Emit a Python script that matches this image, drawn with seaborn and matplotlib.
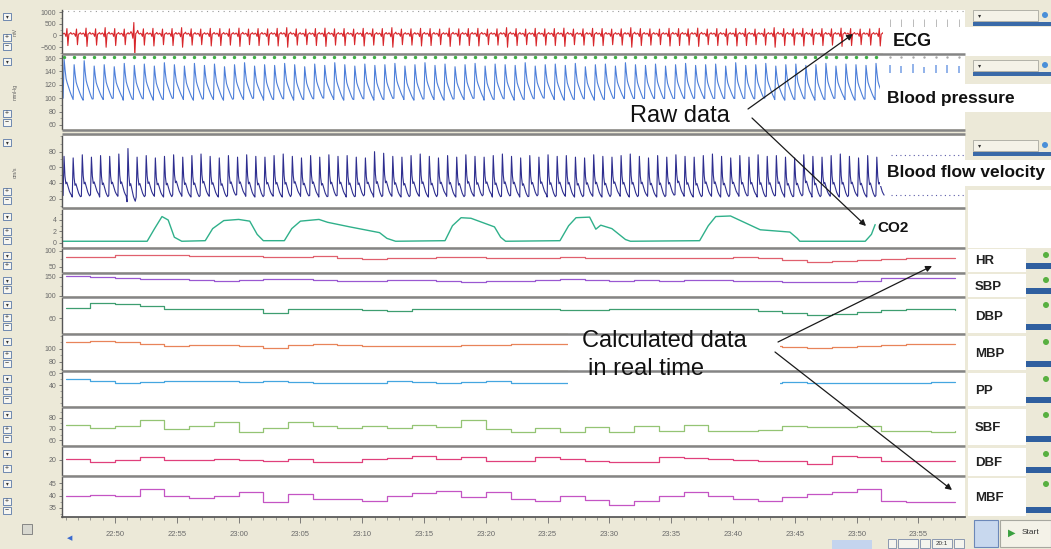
import numpy as np
import matplotlib
matplotlib.use("Agg")
import matplotlib.pyplot as plt
from matplotlib.patches import Rectangle, Circle
from matplotlib.ticker import AutoMinorLocator, FixedLocator
import seaborn as sns

# ---------------- data ----------------
# trend channels, one value every 2 min (minutes after 22:00)
trend_min = [46, 48, 50, 52, 54, 56, 58, 60, 62, 64, 66, 68, 70, 72, 74, 76, 78, 80, 82,
             84, 86, 88, 90, 92, 94, 96, 98, 100, 102, 104, 106, 108, 110, 112, 114, 116, 118]
hr = [81, 82, 86, 87, 86, 84, 84, 83, 81, 81, 83, 78, 76, 77, 79, 80, 80, 79, 78,
      79, 80, 78, 77, 78, 79, 79, 78, 80, 79, 72, 66, 68, 72, 75, 77, 79, 79]
sbp = [152, 150, 146, 144, 144, 142, 140, 142, 144, 144, 141, 140, 140, 142, 142, 138, 136, 138, 140,
       142, 144, 142, 140, 142, 140, 141, 142, 140, 138, 136, 135, 137, 140, 146, 147, 146, 146]
dbp = [72, 78, 77, 74, 71, 70, 71, 70, 66, 71, 70, 70, 69, 68, 70, 71, 70, 70, 71,
       70, 69, 69, 70, 70, 70, 71, 70, 70, 68, 66, 64, 65, 67, 69, 70, 70, 69]
mbp = [110, 112, 110, 108, 105, 106, 106, 104, 102, 106, 107, 106, 105, 104, 104, 105, 106, 106, 107,
       108, 107, 104, 103, 104, 104, 105, 106, 106, 105, 103, 102, 103, 104, 106, 107, 108, 108]
pp = [50, 47, 44, 45, 47, 46, 46, 45, 46, 45, 44, 44, 44, 46, 45, 44, 45, 46, 44,
      44, 44, 45, 44, 44, 44, 45, 46, 45, 44, 45, 44, 44, 43, 44, 44, 45, 45]
sbf = [74, 71, 73, 78, 70, 73, 76, 67, 71, 76, 73, 71, 73, 71, 74, 72, 78, 70, 67,
       71, 67, 72, 67, 73, 68, 74, 68, 68, 69, 73, 72, 72, 73, 68, 68, 67, 68]
dbf = [20.6, 18.8, 20, 21.9, 20, 20, 20.6, 20, 19.4, 20.6, 18.8, 18.8, 20.6, 21.3, 22.5, 20.6, 21.9, 19.4, 19.4,
       21.9, 20.6, 19.4, 18.8, 18.8, 21.9, 21.3, 20.6, 20, 19.4, 19.4, 17.5, 22.5, 21.9, 19.4, 19.4, 19.4, 19.4]
mbf = [40, 40.4, 40, 42.8, 40, 39.2, 40, 41.6, 37.6, 40.8, 38.8, 38.8, 38, 40, 41.2, 42, 39.6, 41.6, 38.8,
       38, 40, 38.4, 36.4, 38, 40, 41.6, 40, 38.8, 38, 39.6, 40.8, 41.6, 42.5, 38, 37.6, 37.6, 37.6]

# end-tidal CO2 curve, break points
co2_min = [45.8, 52.6, 53.2, 53.8, 54.3, 54.8, 55.4, 57.3, 57.9, 58.8, 60.0, 60.9, 61.5, 62.0,
           63.7, 64.3, 65.0, 66.5, 67.2, 69.0, 71.4, 72.0, 72.7, 76.7, 77.3, 78.0, 78.8, 80.7,
           81.2, 81.6, 86.0, 86.7, 87.3, 88.4, 88.9, 89.3, 90.2, 91.3, 91.7, 97.3, 98.0, 98.6,
           99.8, 102.2, 104.6, 105.2, 105.4, 110.7, 111.2, 111.5]
co2_val = [0.3, 0.3, 2.5, 4.6, 4.0, 1.0, 0.3, 0.4, 2.5, 3.9, 4.1, 3.8, 1.5, 0.4,
           0.4, 2.5, 3.8, 4.1, 3.6, 2.8, 1.8, 0.8, 0.3, 0.4, 3.0, 4.4, 4.3, 2.8,
           1.0, 0.3, 0.4, 3.0, 4.4, 4.5, 2.4, 3.1, 2.5, 0.6, 0.3, 0.4, 3.0, 4.6,
           4.7, 2.3, 1.9, 0.8, 0.3, 0.3, 1.5, 3.2]

# beat-to-beat values of the raw waveforms
ecg_r = [260, 240, 280, 250, 300, 260, 240, 520, 250, 270, 240, 260, 300, 250, 240, 270, 260, 250,
         280, 240, 260, 250, 270, 300, 250, 240, 260, 280, 250, 260, 240, 270, 250, 260, 300, 240,
         250, 270, 260, 240, 280, 250, 260, 270, 240, 250, 300, 260, 240, 270, 250, 260, 280, 240,
         250, 270, 260, 240, 250, 300, 260, 250, 240, 270, 260, 250, 280, 240, 260, 250, 270, 260,
         240, 250, 300, 260, 250, 270, 240, 260, 250, 280, 260, 240, 250, 270]
bp_sys = [158, 150, 156, 148, 150, 147, 152, 149, 151, 148, 153, 150, 148, 152, 149, 151, 147, 150,
          153, 148, 150, 149, 152, 150, 147, 151, 149, 153, 150, 148, 151, 149, 150, 152, 148, 150,
          153, 149, 151, 147, 150, 152, 148, 151, 150, 149, 153, 148, 150, 151, 149, 152, 147, 150,
          151, 148, 153, 150, 149, 151, 148, 150, 152, 149, 150, 151, 148, 153, 149, 150, 152, 148,
          150, 151, 149, 150, 152, 148, 151, 150, 149, 152]
bp_dia = [100, 98, 97, 99, 98, 100, 97, 98, 99, 97, 98, 100, 98, 97, 99, 98, 97, 99, 98, 100,
          97, 98, 99, 97, 98, 99, 100, 98, 97, 98, 99, 97, 98, 100, 98, 97, 99, 98, 97, 99,
          98, 100, 97, 98, 99, 97, 98, 99, 100, 98, 97, 98, 99, 97, 98, 100, 98, 97, 99, 98,
          97, 99, 98, 100, 97, 98, 99, 97, 98, 99, 100, 98, 97, 98, 99, 97, 98, 100, 98, 97,
          99, 98]
# faint beats after the live trace, pressure peaks only
bp_tail = [150, 148, 151, 147, 150, 149, 148, 151]
bfv_sys = [74, 72, 76, 73, 75, 74, 77, 84, 73, 75, 72, 74, 76, 73, 75, 77, 74, 72, 75, 73, 76,
           74, 73, 75, 77, 74, 72, 75, 73, 76, 74, 75, 73, 72, 80, 78, 74, 73, 75, 77, 74, 72,
           75, 73, 76, 74, 73, 75, 77, 74, 72, 75, 73, 76, 74, 75, 73, 72, 76, 74, 73, 75, 77,
           74, 72, 75, 73, 76, 74, 73, 75, 77, 74, 72, 75, 73, 76, 74, 75, 73, 72, 76, 74, 73,
           75, 77, 74, 72, 75, 73]
bfv_dia = [24, 22, 23, 25, 22, 24, 23, 16, 22, 24, 23, 22, 25, 23, 22, 24, 23, 22, 24, 25, 23,
           22, 24, 23, 22, 25, 23, 24, 22, 23, 24, 22, 23, 25, 22, 24, 23, 22, 24, 23, 22, 25,
           23, 22, 24, 23, 25, 22, 23, 24, 22, 23, 25, 22, 24, 23, 22, 24, 23, 22, 25, 23, 22,
           24, 23, 22, 24, 25, 23, 22, 24, 23, 22, 25, 23, 24, 22, 23, 24, 22, 23, 25, 22, 24,
           23, 22, 24, 23, 22, 24]

# one beat, normalised
ecg_beat = [0.1, 0.25, 0.1, -0.3, 1.0, -1.8, 0.1, 0.15, 0.35, 0.1]
bp_beat = [0.0, 1.0, 0.72, 0.5, 0.4, 0.32, 0.24, 0.16, 0.09, 0.03]
bfv_beat = [0.0, 1.0, 0.5, 0.3, 0.34, 0.26, 0.18, 0.1, 0.05, 0.01]

time_ticks = [50, 55, 60, 65, 70, 75, 80, 85, 90, 95, 100, 105, 110, 115]
time_labels = ["22:50", "22:55", "23:00", "23:05", "23:10", "23:15", "23:20",
               "23:25", "23:30", "23:35", "23:40", "23:45", "23:50", "23:55"]

# ---------------- layout (pixels of the 1051x549 screenshot) ----------------
W, H = 1051, 549
X0, X1 = 62, 965
T0, T1 = 45.71, 118.77          # visible time window
WAVE_T0, WAVE_T1 = 45.8, 112.3  # raw waveforms drawn up to here
BEIGE = "#ECE9D8"

sns.set_theme(style="white")
plt.rcParams["font.family"] = ["Liberation Sans", "DejaVu Sans"]

fig = plt.figure(figsize=(W / 100, H / 100), dpi=100, facecolor=BEIGE)


def px_axes(top, bottom, x0=X0, x1=X1):
    return fig.add_axes([x0 / W, 1 - bottom / H, (x1 - x0) / W, (bottom - top) / H])


def beat_wave(peaks, troughs, shape, t0, t1):
    n = len(peaks)
    step = (t1 - t0) / n
    starts = t0 + step * np.arange(n)
    k = len(shape)
    t = (starts[:, None] + np.arange(k)[None, :] * step / k).ravel()
    lo = np.asarray(troughs, float)[:, None]
    hi = np.asarray(peaks, float)[:, None]
    y = (lo + (hi - lo) * np.asarray(shape)[None, :]).ravel()
    return t, y, starts, step


# name, top px, bottom px, ylim (bottom, top), tick values, colour
panels = [
    ("ECG", 10, 53, (-757, 1086), [1000, 500, 0, -500], "#D8262B"),
    ("BP", 55, 129, (54, 164.5), [160, 140, 120, 100, 80, 60], "#4D7FD9"),
    ("BFV", 136, 207, (9.3, 100), [80, 60, 40, 20], "#2E2E8F"),
    ("CO2", 210, 247, (-0.7, 5.74), [4, 2, 0], "#2FB08A"),
    ("HR", 249, 272, (34.4, 106), [100, 50], "#E0606E"),
    ("SBP", 274, 296, (99, 157.5), [150, 100], "#9A58D2"),
    ("DBP", 298, 333, (42.4, 83.5), [60], "#3E9E70"),
    ("MBP", 335, 370, (67.7, 121.5), [100, 80], "#E8845A"),
    ("PP", 372, 406, (5, 61.7), [60, 40], "#45A6E0"),
    ("SBF", 408, 445, (55.5, 89), [80, 70, 60], "#94C474"),
    ("DBF", 447, 475, (10.6, 28.1), [20], "#E0407C"),
    ("MBF", 477, 517, (31.4, 47.4), [45, 40, 35], "#C455C4"),
]
trend_series = {"HR": hr, "SBP": sbp, "DBP": dbp, "MBP": mbp, "PP": pp,
                "SBF": sbf, "DBF": dbf, "MBF": mbf}

axes = {}
for name, top, bottom, ylim, ticks, col in panels:
    ax = px_axes(top, bottom)
    ax.set_facecolor("white")
    ax.set_xlim(T0, T1)
    ax.set_ylim(*ylim)
    for s in ["top", "right", "bottom"]:
        ax.spines[s].set_visible(False)
    ax.spines["left"].set_color("#555555")
    ax.spines["left"].set_linewidth(1.0)
    ax.yaxis.set_major_locator(FixedLocator(ticks))
    ax.yaxis.set_minor_locator(AutoMinorLocator(2))
    ax.tick_params(axis="y", which="major", direction="out", length=2.5, width=0.6,
                   labelsize=5, colors="#6A6A6A", pad=1.5, left=True)
    ax.tick_params(axis="y", which="minor", direction="out", length=1.5, width=0.5,
                   colors="#888888", left=True)
    ax.set_xticks([])
    axes[name] = ax

# ECG
t, y, starts, step = beat_wave(ecg_r, [0] * len(ecg_r), ecg_beat, WAVE_T0, WAVE_T1)
sns.lineplot(x=t, y=y + 30, ax=axes["ECG"], color="#D8262B", linewidth=0.8,
             estimator=None, sort=False, legend=False)
axes["ECG"].axhline(1040, color="#9A9A9A", lw=0.8, ls=(0, (1, 4)))
tail_t = WAVE_T1 + 0.4 + step * 1.2 * np.arange(len(bp_tail))
axes["ECG"].vlines(tail_t, 350, 700, colors="#B0B0B0", lw=0.6)

# Blood pressure
t, y, starts, step = beat_wave(bp_sys, bp_dia, bp_beat, WAVE_T0, WAVE_T1)
sns.lineplot(x=t, y=y, ax=axes["BP"], color="#4D7FD9", linewidth=0.8,
             estimator=None, sort=False, legend=False)
sns.scatterplot(x=starts + 0.05, y=[161] * len(starts), ax=axes["BP"], color="#3CB043",
                s=6, linewidth=0, legend=False)
axes["BP"].vlines(tail_t, 138, bp_tail, colors="#7FA6E6", lw=1.2)
sns.scatterplot(x=tail_t, y=[161] * len(tail_t), ax=axes["BP"], color="#A8A8A8",
                s=3, linewidth=0, legend=False)

# Blood flow velocity
t, y, starts, step = beat_wave(bfv_sys, bfv_dia, bfv_beat, WAVE_T0, WAVE_T1)
sns.lineplot(x=t, y=y, ax=axes["BFV"], color="#2E2E8F", linewidth=0.8,
             estimator=None, sort=False, legend=False)
axes["BFV"].hlines([76, 24], WAVE_T1 + 0.5, T1, colors="#5A5AA8", lw=0.8, linestyles=(0, (1, 3)))

# CO2
sns.lineplot(x=co2_min, y=co2_val, ax=axes["CO2"], color="#2FB08A", linewidth=1.0,
             estimator=None, sort=False, legend=False)

# trend channels as stepped lines
for name, top, bottom, ylim, ticks, col in panels[4:]:
    sns.lineplot(x=trend_min, y=trend_series[name], ax=axes[name], color=col,
                 linewidth=0.9, drawstyle="steps-post", estimator=None, sort=False, legend=False)

# time axis on the last panel
axb = axes["MBF"]
axb.spines["bottom"].set_visible(True)
axb.spines["bottom"].set_color("#555555")
axb.set_xticks(time_ticks)
axb.set_xticklabels(time_labels)
axb.xaxis.set_minor_locator(AutoMinorLocator(5))
axb.tick_params(axis="x", which="major", direction="out", length=4, width=0.6,
                labelsize=5.5, colors="#6A6A6A", pad=6, bottom=True)
axb.tick_params(axis="x", which="minor", direction="out", length=2, width=0.5,
                colors="#777777", bottom=True)

# ---------------- overlay: separators, side panels, labels, arrows ----------------
ov = fig.add_axes([0, 0, 1, 1])
ov.set_xlim(0, W)
ov.set_ylim(H, 0)
ov.axis("off")
ov.patch.set_alpha(0)
ov.set_zorder(20)

for ys in [54, 130, 134, 208, 248, 273, 297, 334, 371, 407, 446, 476]:
    ov.plot([X0, X1], [ys, ys], color="#858585", lw=1.8, solid_capstyle="butt")

# left control column: little buttons and rotated unit labels
for name, top, bottom, *_ in panels:
    ov.add_patch(Rectangle((3, top + 3), 8, 7, fc="#F6F6F2", ec="#5A78A8", lw=0.6))
    ov.text(7, top + 6.5, "▾", fontsize=4, ha="center", va="center", color="#333333",
            family=["DejaVu Sans"])
    if bottom - top > 30:
        ov.add_patch(Rectangle((3, bottom - 19), 8, 7, fc="#F6F6F2", ec="#5A78A8", lw=0.6))
        ov.text(7, bottom - 15.5, "+", fontsize=5, ha="center", va="center", color="#333333")
        ov.add_patch(Rectangle((3, bottom - 10), 8, 7, fc="#F6F6F2", ec="#5A78A8", lw=0.6))
        ov.text(7, bottom - 6.5, "−", fontsize=5, ha="center", va="center", color="#333333")
    else:
        ov.add_patch(Rectangle((3, bottom - 10), 8, 7, fc="#F6F6F2", ec="#5A78A8", lw=0.6))
        ov.text(7, bottom - 6.5, "+", fontsize=5, ha="center", va="center", color="#333333")
for txt, yc in [("mV", 32), ("mmHg", 92), ("cm/s", 172)]:
    ov.text(15, yc, txt, rotation=90, fontsize=4, color="#666666", ha="center", va="center")

# right panel: raw channel rows
for top in [10, 60, 140]:
    ov.add_patch(Rectangle((973, top), 65, 11, fc="#F4F2E8", ec="#A8A8A0", lw=0.6))
    ov.text(978, top + 5.5, "▾", fontsize=4.5, va="center", color="#333333", family=["DejaVu Sans"])
    ov.add_patch(Rectangle((973, top + 12), 78, 4, fc="#3A6AA8", ec="none"))
    ov.add_patch(Circle((1045, top + 5), 3, fc="#4A8FD8", ec="none"))

# label boxes of the raw channels
raw_labels = [("ECG", 883, 27, 1051, 56, 893, 13),
              ("Blood pressure", 880, 84, 1051, 112, 887, 12.5),
              ("Blood flow velocity", 880, 160, 1051, 186, 887, 12.5)]
for txt, bx0, by0, bx1, by1, tx, fs in raw_labels:
    ov.add_patch(Rectangle((bx0, by0), bx1 - bx0, by1 - by0, fc="white", ec="none"))
    ov.text(tx, (by0 + by1) / 2, txt, fontsize=fs, fontweight="bold", va="center",
            color="#111111")
ov.add_patch(Rectangle((968, 190), 83, 58, fc="white", ec="none"))
ov.text(877, 228, "CO2", fontsize=11, fontweight="bold", va="center", color="#111111")

# right panel: trend channel rows
trend_rows = [("HR", 249, 272), ("SBP", 274, 297), ("DBP", 299, 333), ("MBP", 336, 370),
              ("PP", 373, 406), ("SBF", 409, 445), ("DBF", 448, 476), ("MBF", 478, 516)]
for txt, top, bottom in trend_rows:
    ov.add_patch(Rectangle((968, top), 58, bottom - top, fc="white", ec="none"))
    ov.add_patch(Circle((1046, top + 6), 3, fc="#58B040", ec="none"))
    ov.add_patch(Rectangle((1026, bottom - 9), 25, 6, fc="#2F5F9F", ec="none"))
    ov.text(975, (top + bottom) / 2 + 1, txt, fontsize=9.5, fontweight="bold", va="center",
            color="#222222", family=["Liberation Sans Narrow", "Liberation Sans", "DejaVu Sans"])

# annotation boxes and arrows
ov.add_patch(Rectangle((622, 99), 130, 30, fc="white", ec="none"))
ov.text(630, 116, "Raw data", fontsize=17, va="center", color="#111111")
ov.add_patch(Rectangle((568, 322), 212, 70, fc="white", ec="none"))
ov.text(582, 341, "Calculated data", fontsize=17, va="center", color="#111111")
ov.text(588, 369, "in real time", fontsize=17, va="center", color="#111111")

arrow = dict(arrowstyle="-|>", color="#1A1A1A", lw=0.9, mutation_scale=9, shrinkA=0, shrinkB=0)
ov.annotate("", xy=(853, 34), xytext=(748, 109), arrowprops=arrow)
ov.annotate("", xy=(866, 226), xytext=(752, 118), arrowprops=arrow)
ov.annotate("", xy=(932, 266), xytext=(778, 342), arrowprops=arrow)
ov.annotate("", xy=(952, 490), xytext=(775, 352), arrowprops=arrow)

# bottom bar: scroll controls and start button
ov.text(67, 538, "◀", fontsize=5, color="#3A6AD0", va="center", family=["DejaVu Sans"])
ov.add_patch(Rectangle((22, 524), 10, 10, fc="#D8D8D0", ec="#777777", lw=0.6))
ov.add_patch(Rectangle((832, 540), 40, 9, fc="#C4D4EE", ec="none"))
for bx, bw in [(888, 8), (898, 20), (920, 10), (932, 20), (954, 10)]:
    ov.add_patch(Rectangle((bx, 539), bw, 9, fc="#F4F4EE", ec="#7A8AA8", lw=0.6))
ov.text(942, 543.5, "20:1", fontsize=4.5, ha="center", va="center", color="#333333")
ov.add_patch(Rectangle((974, 520), 24, 27, fc="#C8D8EE", ec="#6C88B8", lw=0.8))
ov.add_patch(Rectangle((1000, 520), 51, 27, fc="#F4F2E8", ec="#A8A8A0", lw=0.8))
ov.text(1008, 533, "▶", fontsize=7, color="#3AA040", va="center", family=["DejaVu Sans"])
ov.text(1022, 533, "Start", fontsize=6, color="#333333", va="center")

fig.savefig("out.png", dpi=100, facecolor=BEIGE)
